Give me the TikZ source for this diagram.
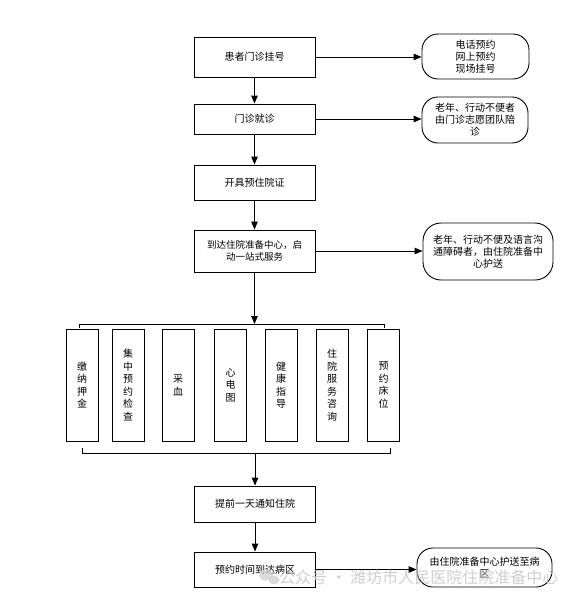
\documentclass[tikz,border=0pt]{standalone}
\usepackage{fontspec}
\setmainfont{Noto Sans CJK SC}
\usetikzlibrary{arrows.meta}

\begin{document}
\begin{tikzpicture}[x=1pt,y=-1pt,
		stap/.style={draw, line width=0.9pt, minimum width=121pt, inner sep=0pt, align=center, font=\fontsize{10}{12.5}\selectfont},
		opmerking/.style={draw, line width=0.9pt, rounded corners=16pt, inner sep=0pt, align=center, font=\fontsize{10}{12}\selectfont},
		kolom/.style={draw, line width=0.9pt, minimum width=32pt, minimum height=112pt, inner sep=0pt, align=center, font=\fontsize{10}{12.5}\selectfont},
		pijl/.style={line width=0.9pt, -{Triangle[length=8pt,width=6.5pt]}},
		lijn/.style={line width=0.9pt}]

				\useasboundingbox (0,0) rectangle (584,600);

				\node[stap, minimum height=40pt] (guahao) at (254.5,57) {患者门诊挂号};
				\node[stap, minimum height=30pt] (jiuzhen) at (254.5,119) {门诊就诊};
				\node[stap, minimum height=35pt] (kaizheng) at (254.5,182.5) {开具预住院证};
				\node[stap, minimum height=42pt, font=\fontsize{9.5}{12.5}\selectfont] (zhunbei) at (254.5,251) {到达住院准备中心，启\\动一站式服务};
				\node[stap, minimum height=36pt] (tongzhi) at (255,504) {提前一天通知住院};
				\node[stap, minimum height=35pt] (daoda) at (255,569.5) {预约时间到达病区};

				\node[opmerking, minimum width=107pt, minimum height=45pt] (yuyue) at (475.5,56.5) {电话预约\\网上预约\\现场挂号};
				\node[opmerking, minimum width=106pt, minimum height=46pt] (peizhen) at (475,120) {老年、行动不便者\\由门诊志愿团队陪\\诊};
				\node[opmerking, minimum width=130pt, minimum height=57pt, rounded corners=18pt] (husong) at (488,251.5) {老年、行动不便及语言沟\\通障碍者，由住院准备中\\心护送};
				\node[opmerking, minimum width=135pt, minimum height=39pt] (songbingqu) at (484.5,567.5) {由住院准备中心护送至病\\区};

				\node[kolom] (yajin) at (82,385) {缴\\纳\\押\\金};
				\node[kolom] (jiancha) at (128,385) {集\\中\\预\\约\\检\\查};
				\node[kolom] (caixue) at (178,385) {采\\血};
				\node[kolom] (xindiantu) at (230.5,385) {心\\电\\图};
				\node[kolom] (zhidao) at (281,385) {健\\康\\指\\导};
				\node[kolom] (zixun) at (332,385) {住\\院\\服\\务\\咨\\询};
				\node[kolom] (chuangwei) at (383.5,385) {预\\约\\床\\位};

				\coordinate (shangzuo) at (79,328);
				\coordinate (shangyou) at (384,328);
				\coordinate (shangzhong) at (254.5,324);
				\coordinate (xiazuo) at (82,448);
				\coordinate (xiayou) at (390,448);
				\coordinate (xiazhong) at (255,453);

				\draw[pijl] (guahao) -- (jiuzhen);
				\draw[pijl] (jiuzhen) -- (kaizheng);
				\draw[pijl] (kaizheng) -- (zhunbei);
				\draw[pijl] (zhunbei.south) -- (shangzhong);
				\draw[lijn] (shangzuo) -- ++(0,-4) -| (shangyou);
				\draw[lijn] (xiazuo) -- ++(0,5) -| (xiayou);
				\draw[pijl] (xiazhong) -- (tongzhi.north);
				\draw[pijl] (tongzhi) -- (daoda);

				\draw[pijl] (guahao.east) -- (yuyue.west |- guahao.east);
				\draw[pijl] (jiuzhen.east) -- (peizhen.west |- jiuzhen.east);
				\draw[pijl] (zhunbei.east) -- (husong.west |- zhunbei.east);
				\draw[pijl] (daoda.east) -- (songbingqu.west |- daoda.east);

				% watermark
				\fill[gray!35, opacity=0.8] (266,575) ellipse (7 and 5.5);
				\fill[gray!35, opacity=0.8] (274,580) ellipse (5.5 and 4.5);
				\node[anchor=west, inner sep=0pt, text=gray!45, opacity=0.85, font=\fontsize{16}{16}\selectfont] (shuiyin) at (279,577) {公众号 · 潍坊市人民医院住院准备中心};

			\end{tikzpicture}
\end{document}
